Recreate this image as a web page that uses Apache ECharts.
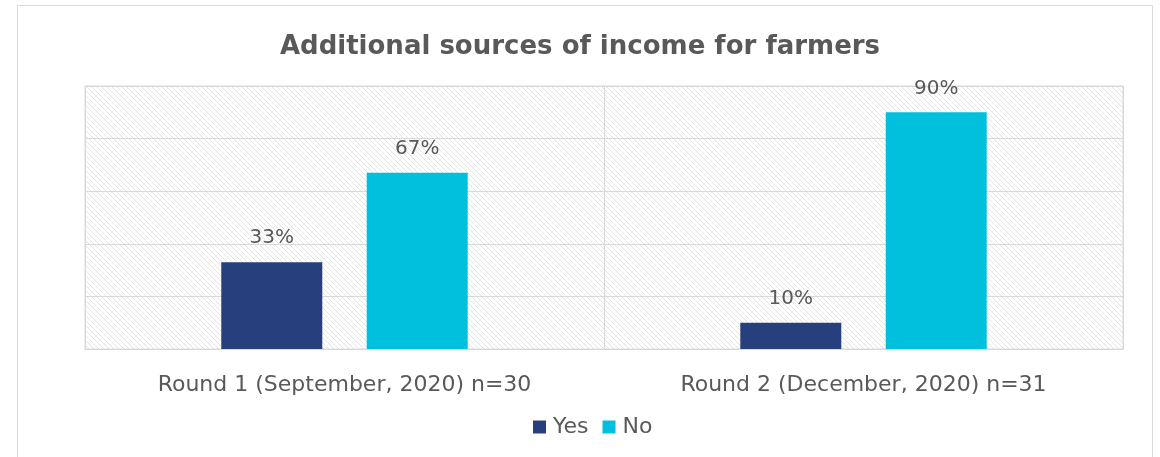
<!DOCTYPE html>
<html>
<head>
<meta charset="utf-8">
<script src="https://cdn.jsdelivr.net/npm/echarts@6/dist/echarts.min.js"></script>
<style>
  html, body { margin: 0; padding: 0; background: #fff; }
  #chart { width: 1160px; height: 457px; }
</style>
</head>
<body>
<div id="chart"></div>
<script>
// Survey rounds and shares of farmers with additional income (%)
const categories = ['Round 1 (September, 2020) n=30', 'Round 2 (December, 2020) n=31'];
const yesValues = [33, 10];
const noValues = [67, 90];
const seriesNames = ['Yes', 'No'];

const TEXT = '#595959';
const FONT = '"DejaVu Sans", sans-serif';
const GRID = { left: 85, top: 86, width: 1038, height: 263 };

// Light diagonal hatch used as the plot background
function hatchPattern() {
  const c = document.createElement('canvas');
  const n = 5;
  c.width = n; c.height = n;
  const ctx = c.getContext('2d');
  ctx.fillStyle = '#ffffff';
  ctx.fillRect(0, 0, n, n);
  ctx.fillStyle = '#e4e4e4';
  for (let i = 0; i < n; i++) ctx.fillRect(i, i, 1, 1);
  return { image: c, repeat: 'repeat' };
}

const chart = echarts.init(document.getElementById('chart'), null, { renderer: 'canvas' });

const label = {
  show: true,
  position: 'top',
  distance: 14,
  formatter: '{c}%',
  color: TEXT,
  fontSize: 20,
  fontFamily: FONT
};

chart.setOption({
  animation: false,
  backgroundColor: '#ffffff',
  title: {
    text: 'Additional sources of income for farmers',
    left: 'center',
    top: 29,
    textStyle: { color: TEXT, fontSize: 26, fontWeight: 'bold', fontFamily: FONT }
  },
  graphic: [
    {
      type: 'rect', z: -10, silent: true,
      shape: { x: 17.5, y: 5.5, width: 1135, height: 470 },
      style: { fill: '#ffffff', stroke: '#d9d9d9', lineWidth: 1 }
    },
    {
      type: 'rect', z: -5, silent: true,
      shape: { x: GRID.left, y: GRID.top, width: GRID.width, height: GRID.height },
      style: { fill: hatchPattern(), stroke: '#d9d9d9', lineWidth: 1 }
    }
  ],
  legend: {
    data: seriesNames,
    bottom: 14,
    left: 528,
    itemWidth: 13,
    itemHeight: 13,
    itemGap: 14,
    icon: 'rect',
    textStyle: { color: TEXT, fontSize: 22, fontFamily: FONT, padding: [0, 0, 0, 2] }
  },
  grid: { left: GRID.left, top: GRID.top, width: GRID.width, height: GRID.height },
  xAxis: {
    type: 'category',
    data: categories,
    axisLine: { lineStyle: { color: '#d9d9d9' } },
    axisTick: { show: false },
    splitLine: { show: true, lineStyle: { color: '#d9d9d9' } },
    axisLabel: { color: TEXT, fontSize: 22, fontFamily: FONT, margin: 25 }
  },
  yAxis: {
    type: 'value',
    min: 0,
    max: 100,
    interval: 20,
    axisLabel: { show: false },
    axisLine: { show: false },
    axisTick: { show: false },
    splitLine: { show: true, lineStyle: { color: '#d9d9d9' } }
  },
  series: [
    {
      name: seriesNames[0], type: 'bar', data: yesValues,
      barWidth: 101, barGap: '44%',
      itemStyle: { color: '#273f7c' },
      label: label
    },
    {
      name: seriesNames[1], type: 'bar', data: noValues,
      barWidth: 101,
      itemStyle: { color: '#00c0de' },
      label: label
    }
  ]
});
</script>
</body>
</html>
